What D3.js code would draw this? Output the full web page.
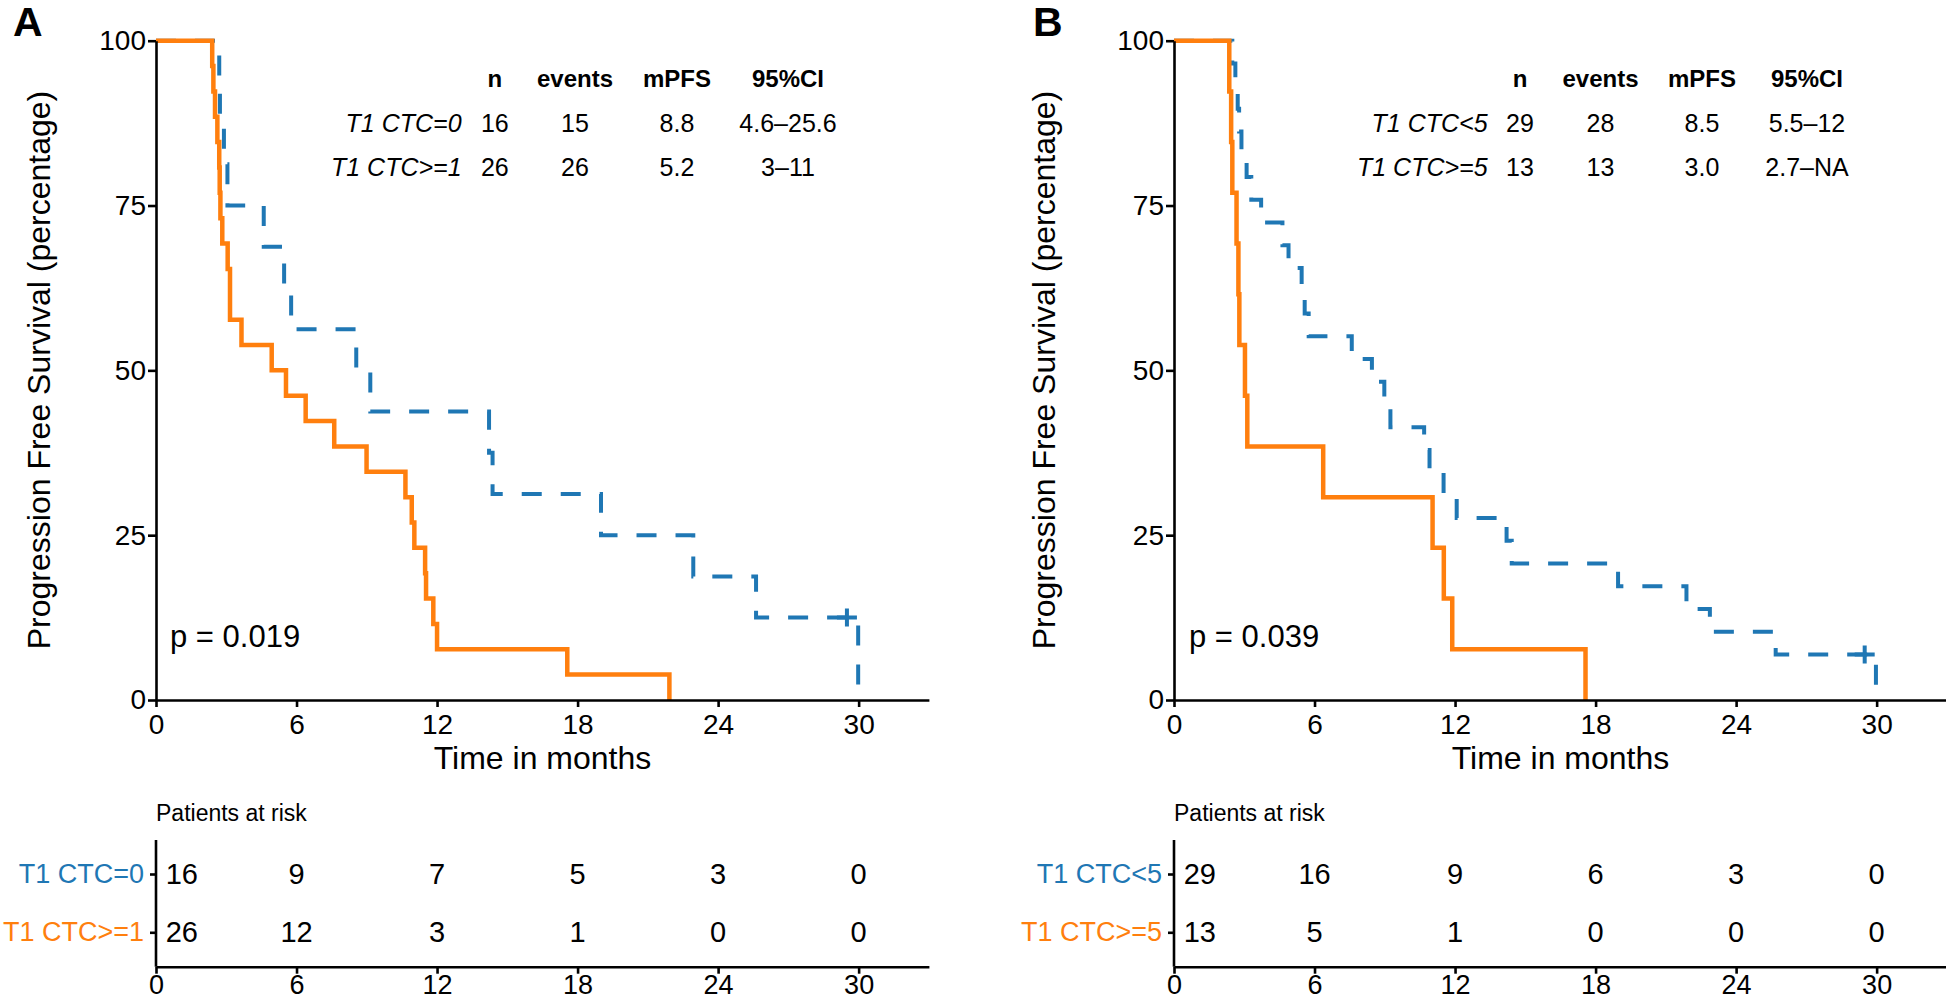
<!DOCTYPE html>
<html><head><meta charset="utf-8">
<script src="https://cdn.jsdelivr.net/npm/d3@7"></script>
<style>
html,body{margin:0;padding:0;background:#fff;}
svg{display:block;font-family:"Liberation Sans",Arial,Helvetica,sans-serif;}
</style>
</head><body>
<svg id="chart" width="1946" height="1000"></svg>
<script>
// ---------------- shared ----------------
const timeTicks = [0, 6, 12, 18, 24, 30];
const survTicks = [0, 25, 50, 75, 100];
const statsHeader = ["n", "events", "mPFS", "95%CI"];
const groupColors = ["#1F77B4", "#FF7F0E"];

// ---------------- Panel A ----------------
const A_groups = ["T1 CTC=0", "T1 CTC>=1"];
const A_g1_time = [0, 2.70, 2.73, 2.90, 3.05, 4.60, 5.47, 5.77, 8.55, 9.15, 14.22, 14.37, 19.0, 22.94, 25.62, 29.98];
const A_g1_surv = [100, 93.75, 87.5, 81.25, 75, 68.75, 62.5, 56.25, 50, 43.75, 37.5, 31.25, 25, 18.75, 12.5, 0];
const A_g1_censorTime = [29.5];
const A_g1_censorSurv = [12.5];
const A_g2_time = [0, 2.40, 2.45, 2.52, 2.62, 2.70, 2.72, 2.75, 2.83, 3.06, 3.16, 3.65, 4.94, 5.55, 6.39, 7.61, 8.99, 10.65, 10.92, 11.03, 11.49, 11.53, 11.84, 12.0, 17.56, 21.92];
const A_g2_surv = [100, 96.15, 92.31, 88.46, 84.62, 80.77, 76.92, 73.08, 69.23, 65.38, 57.69, 53.85, 50.0, 46.15, 42.31, 38.46, 34.62, 30.77, 26.92, 23.08, 19.23, 15.38, 11.54, 7.69, 3.85, 0];
const A_stats_n = [16, 26];
const A_stats_events = [15, 26];
const A_stats_mpfs = ["8.8", "5.2"];
const A_stats_ci = ["4.6\u201325.6", "3\u201311"];
const A_risk_g1 = [16, 9, 7, 5, 3, 0];
const A_risk_g2 = [26, 12, 3, 1, 0, 0];
const A_pvalue = "p = 0.019";

// ---------------- Panel B ----------------
const B_groups = ["T1 CTC<5", "T1 CTC>=5"];
const B_g1_time = [0, 2.49, 2.62, 2.72, 2.78, 2.88, 3.10, 3.30, 3.72, 4.63, 4.89, 5.45, 5.58, 5.75, 7.59, 8.45, 8.98, 9.24, 10.68, 10.91, 11.51, 12.07, 14.20, 14.42, 18.96, 21.88, 22.88, 25.69, 29.97];
const B_g1_surv = [100, 96.55, 93.10, 89.66, 86.21, 82.76, 79.31, 75.86, 72.41, 68.97, 65.52, 62.07, 58.62, 55.17, 51.72, 48.28, 44.83, 41.38, 37.93, 34.48, 31.03, 27.59, 24.14, 20.69, 17.24, 13.79, 10.34, 6.90, 0];
const B_g1_censorTime = [29.49];
const B_g1_censorSurv = [6.90];
const B_g2_time = [0, 2.36, 2.44, 2.49, 2.67, 2.75, 2.79, 3.03, 3.13, 6.37, 11.04, 11.52, 11.88, 17.57];
const B_g2_surv = [100, 92.31, 84.62, 76.92, 69.23, 61.54, 53.85, 46.15, 38.46, 30.77, 23.08, 15.38, 7.69, 0];
const B_stats_n = [29, 13];
const B_stats_events = [28, 13];
const B_stats_mpfs = ["8.5", "3.0"];
const B_stats_ci = ["5.5\u201312", "2.7\u2013NA"];
const B_risk_g1 = [29, 16, 9, 6, 3, 0];
const B_risk_g2 = [13, 5, 1, 0, 0, 0];
const B_pvalue = "p = 0.039";

// ---------------- build panel configs ----------------
const panels = [
  {
    letter: "A", letterX: 13, x0: 156, yTitleX: 50, pX: 170,
    statCols: [461.6, 494.8, 575, 677, 788],
    groups: A_groups,
    curves: [
      {time: A_g1_time, surv: A_g1_surv, cT: A_g1_censorTime, cS: A_g1_censorSurv},
      {time: A_g2_time, surv: A_g2_surv, cT: [], cS: []}
    ],
    stats: [A_stats_n, A_stats_events, A_stats_mpfs, A_stats_ci],
    risk: [A_risk_g1, A_risk_g2],
    pvalue: A_pvalue
  },
  {
    letter: "B", letterX: 1033, x0: 1174, yTitleX: 1055, pX: 1189,
    statCols: [1487.6, 1520, 1600.5, 1702, 1807],
    groups: B_groups,
    curves: [
      {time: B_g1_time, surv: B_g1_surv, cT: B_g1_censorTime, cS: B_g1_censorSurv},
      {time: B_g2_time, surv: B_g2_surv, cT: [], cS: []}
    ],
    stats: [B_stats_n, B_stats_events, B_stats_mpfs, B_stats_ci],
    risk: [B_risk_g1, B_risk_g2],
    pvalue: B_pvalue
  }
];

const svg = d3.select("#chart");
const AXW = 2.6;

function styleAxis(g, fs) {
  g.attr("font-family", null).attr("font-size", null);
  g.select(".domain").attr("stroke", "#000").attr("stroke-width", AXW);
  g.selectAll(".tick line").attr("stroke", "#000").attr("stroke-width", AXW);
  g.selectAll(".tick text").attr("fill", "#000").attr("font-size", fs);
}

function drawPanel(p) {
  const g = svg.append("g");
  const x = d3.scaleLinear().domain([0, 33]).range([p.x0, p.x0 + 772.9]);
  const y = d3.scaleLinear().domain([0, 100]).range([700, 40.7]);

  // panel letter
  g.append("text").attr("x", p.letterX).attr("y", 36)
    .attr("font-size", 41).attr("font-weight", "bold").text(p.letter);

  // curves (blue first, orange on top)
  const line = d3.line().x(d => x(d[0])).y(d => y(d[1])).curve(d3.curveStepAfter);
  const styles = [
    {w: 4, dash: "20,19"},
    {w: 4.5, dash: null}
  ];
  p.curves.forEach((c, i) => {
    const pts = c.time.map((t, k) => [t, c.surv[k]]);
    g.append("path").datum(pts)
      .attr("d", line)
      .attr("fill", "none")
      .attr("stroke", groupColors[i])
      .attr("stroke-width", styles[i].w)
      .attr("stroke-dasharray", styles[i].dash)
      .attr("stroke-linejoin", "miter");
    c.cT.forEach((t, k) => {
      const cx = x(t), cy = y(c.cS[k]);
      g.append("path")
        .attr("d", `M${cx - 10},${cy}H${cx + 10}M${cx},${cy - 9}V${cy + 9}`)
        .attr("stroke", groupColors[i]).attr("stroke-width", 4).attr("fill", "none");
    });
  });

  // axes
  const yAx = g.append("g").attr("transform", `translate(${p.x0},0)`)
    .call(d3.axisLeft(y).tickValues(survTicks).tickSize(8).tickPadding(2).tickSizeOuter(0));
  styleAxis(yAx, 28);
  const xAx = g.append("g").attr("transform", `translate(0,700)`)
    .call(d3.axisBottom(x).tickValues(timeTicks).tickSize(7).tickPadding(7).tickSizeOuter(0));
  styleAxis(xAx, 28);

  // titles
  g.append("text").attr("transform", `translate(${p.yTitleX},370) rotate(-90)`)
    .attr("text-anchor", "middle").attr("font-size", 32)
    .text("Progression Free Survival (percentage)");
  g.append("text").attr("x", p.x0 + 386.5).attr("y", 769)
    .attr("text-anchor", "middle").attr("font-size", 32).text("Time in months");

  // p-value
  g.append("text").attr("x", p.pX).attr("y", 647).attr("font-size", 31).text(p.pvalue);

  // stats table
  statsHeader.forEach((h, j) => {
    g.append("text").attr("x", p.statCols[j + 1]).attr("y", 87.3)
      .attr("text-anchor", "middle").attr("font-size", 24).attr("font-weight", "bold").text(h);
  });
  const rowY = [131.7, 176];
  p.groups.forEach((grp, i) => {
    g.append("text").attr("x", p.statCols[0]).attr("y", rowY[i])
      .attr("text-anchor", "end").attr("font-size", 25).attr("font-style", "italic").text(grp);
    p.stats.forEach((col, j) => {
      g.append("text").attr("x", p.statCols[j + 1]).attr("y", rowY[i])
        .attr("text-anchor", "middle").attr("font-size", 25).text(col[i]);
    });
  });

  // risk table
  g.append("text").attr("x", p.x0).attr("y", 820.7).attr("font-size", 23).text("Patients at risk");
  const ry = d3.scalePoint().domain(p.groups).range([874, 932.3]);
  const rAx = g.append("g").attr("transform", `translate(${p.x0},0)`)
    .call(d3.axisLeft(ry).tickSize(6).tickPadding(6).tickSizeOuter(0));
  styleAxis(rAx, 27);
  rAx.select(".domain").remove();
  rAx.selectAll(".tick text").attr("fill", (d, i) => groupColors[i]);
  g.append("line").attr("x1", p.x0).attr("x2", p.x0).attr("y1", 840).attr("y2", 966.7)
    .attr("stroke", "#000").attr("stroke-width", AXW);
  const rxAx = g.append("g").attr("transform", `translate(0,966.7)`)
    .call(d3.axisBottom(x).tickValues(timeTicks).tickSize(7).tickPadding(1).tickSizeOuter(0));
  styleAxis(rxAx, 27);
  p.risk.forEach((vals, i) => {
    vals.forEach((v, k) => {
      const t = timeTicks[k];
      g.append("text")
        .attr("x", x(t === 0 ? 1.1 : t))
        .attr("y", ry(p.groups[i]))
        .attr("dy", "0.35em")
        .attr("text-anchor", "middle")
        .attr("font-size", 29)
        .text(v);
    });
  });
}

panels.forEach(drawPanel);
</script>
</body></html>
